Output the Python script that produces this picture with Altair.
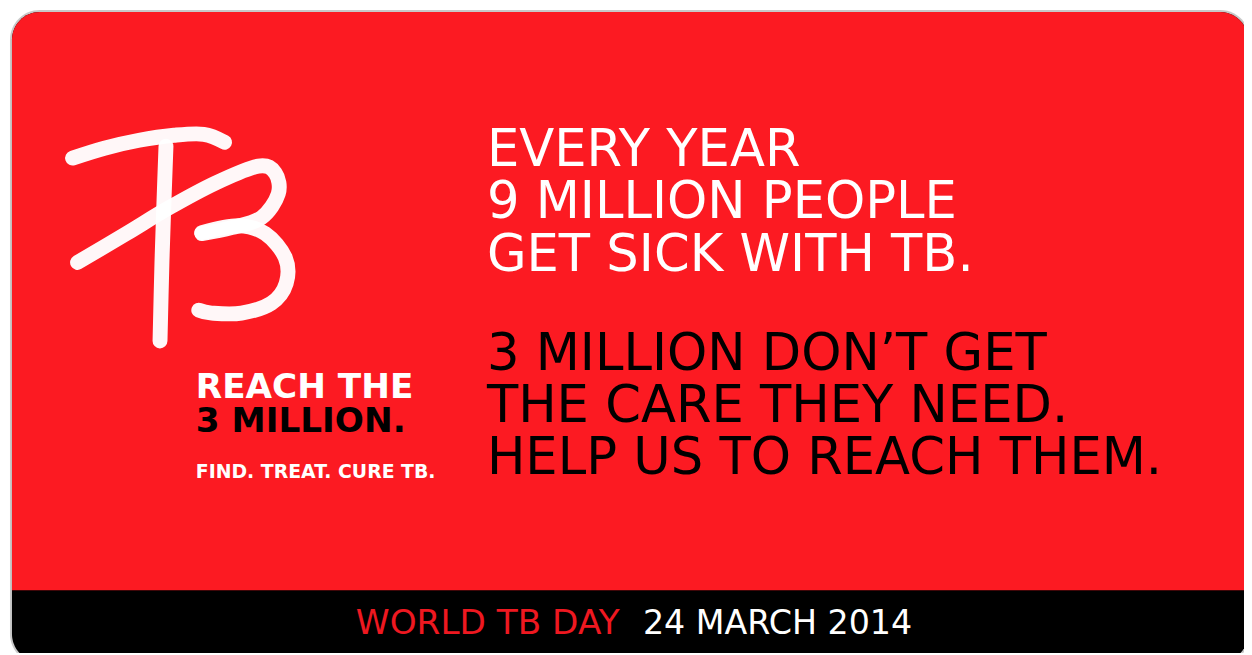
import altair as alt
import pandas as pd

# ---------------- data ----------------
white_lines = ["EVERY YEAR", "9 MILLION PEOPLE", "GET SICK WITH TB."]
black_lines = ["3 MILLION DON\u2019T GET", "THE CARE THEY NEED.", "HELP US TO REACH THEM."]
left_white = ["REACH THE"]
left_black = ["3 MILLION."]
tagline = ["FIND. TREAT. CURE TB."]
footer_red = ["WORLD TB DAY"]
footer_white = ["24 MARCH 2014"]

# brush-stroke logo "TB" (page pixel coordinates)
logo_stroke = ["bar"] * 6 + ["stem"] * 4 + ["diag"] * 10 + ["bowl"] * 9
logo_x = [73, 105, 140, 175, 205, 226,
          167, 165, 163, 161,
          78, 127, 170, 217, 260, 277, 280, 263, 233, 203,
          203, 240, 267, 287, 288, 273, 243, 213, 200]
logo_y = [157, 147, 139, 134, 133, 141,
          145, 200, 260, 341,
          262, 233, 207, 182, 165, 172, 193, 217, 227, 233,
          232, 225, 233, 257, 283, 303, 313, 313, 310]

RED = "#fc1a22"
W, H = 1244, 647

xs = alt.Scale(domain=[8, 8 + W], nice=False, zero=False)
ys = alt.Scale(domain=[8, 8 + H], nice=False, zero=False, reverse=True)


def X(f="x"):
    return alt.X(f"{f}:Q", scale=xs, axis=None)


def Y(f="y"):
    return alt.Y(f"{f}:Q", scale=ys, axis=None)


# ---------------- background card ----------------
shadow = alt.Chart(pd.DataFrame({"x": [10], "x2": [1258], "y": [8], "y2": [666]})).mark_rect(
    color="#9a9a9a", opacity=0.55, cornerRadius=30, clip=True
).encode(x=X(), x2="x2:Q", y=Y(), y2="y2:Q")

card = alt.Chart(pd.DataFrame({"x": [12], "x2": [1256], "y": [10], "y2": [664]})).mark_rect(
    color="#000000", cornerRadius=28, clip=True
).encode(x=X(), x2="x2:Q", y=Y(), y2="y2:Q")

red = alt.Chart(pd.DataFrame({"x": [12], "x2": [1256], "y": [10], "y2": [592]})).mark_rect(
    color=RED, cornerRadiusTopLeft=28, cornerRadiusTopRight=28, clip=True
).encode(x=X(), x2="x2:Q", y=Y(), y2="y2:Q")

# ---------------- logo ----------------
logo_df = pd.DataFrame({"stroke": logo_stroke, "x": logo_x, "y": logo_y})
logo_df["ord"] = range(len(logo_df))
logo = alt.Chart(logo_df).mark_line(
    color="#ffffff", strokeWidth=15, strokeCap="round", strokeJoin="round",
    interpolate="cardinal", opacity=0.97
).encode(x=X(), y=Y(), detail="stroke:N", order="ord:Q")


# ---------------- text ----------------
def text_layer(lines, x0, y0, step, size, color, weight="normal"):
    df = pd.DataFrame({"t": lines,
                       "x": [x0] * len(lines),
                       "y": [y0 + i * step for i in range(len(lines))]})
    return alt.Chart(df).mark_text(
        align="left", baseline="alphabetic", font="DejaVu Sans",
        fontSize=size, fontWeight=weight, color=color
    ).encode(x=X(), y=Y(), text="t:N")


t_white = text_layer(white_lines, 490, 165, 52.7, 51.5, "#ffffff")
t_black = text_layer(black_lines, 490, 370, 52.7, 51.5, "#000000")
t_lw = text_layer(left_white, 197, 398, 0, 34.5, "#ffffff", "bold")
t_lb = text_layer(left_black, 197, 433, 0, 34.5, "#000000", "bold")
t_tag = text_layer(tagline, 197, 479, 0, 19, "#ffffff", "bold")
t_fr = text_layer(footer_red, 358, 636, 0, 34.5, "#ee1820")
t_fw = text_layer(footer_white, 647, 636, 0, 33.5, "#ffffff")

chart = alt.layer(
    shadow, card, red, logo, t_white, t_black, t_lw, t_lb, t_tag, t_fr, t_fw
).properties(
    width=W, height=H, padding=0, autosize=alt.AutoSizeParams(type="none"),
    background="#ffffff"
).configure_view(stroke=None)

chart.save("out.html", embed_options={"renderer": "svg", "actions": False})
